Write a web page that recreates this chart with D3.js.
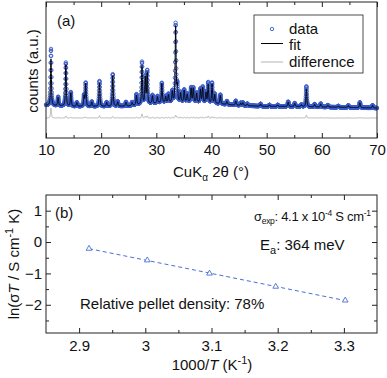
<!DOCTYPE html>
<html><head><meta charset="utf-8">
<script src="https://cdn.jsdelivr.net/npm/d3@7"></script>
<style>
body{margin:0;background:#fff;}
svg text{font-family:"Liberation Sans",Arial,sans-serif;font-size:15px;fill:#111;}
</style></head><body>
<svg id="c" width="387" height="378"></svg>
<script>
// ---------- Panel (a): XRD data (peak table) ----------
const peakPos  = [10.9,12.2,13.6,14.5,15.6,16.9,17.2,18.3,19.7,21.0,22.1,23.0,24.5,25.6,26.4,27.4,28.0,28.35,29.3,30.2,31.0,31.7,32.2,32.9,33.5,33.8,34.4,35.05,35.6,36.3,36.7,37.3,38.0,38.4,39.0,39.4,40.1,40.6,41.6,42.8,44.4,45.3,45.7,46.5,48.9,50.5,52.0,53.9,55.1,56.3,57.2,58.7,59.8,61.1,63.0,64.8,66.9,69.2];
const peakObs  = [416,65,320,103,30,80,172,35,187,30,236,35,30,25,78,310,200,240,60,50,145,45,60,80,575,120,70,90,60,105,105,70,100,115,80,150,150,70,68,25,32,20,22,15,18,12,12,35,25,15,150,20,25,15,10,15,40,20];
const peakCalc = [343,60,305,98,27,76,165,32,170,27,225,31,27,22,72,280,190,225,55,46,140,41,55,76,555,112,64,85,55,99,100,66,95,108,74,135,140,64,63,22,29,18,20,13,16,11,11,32,22,13,130,18,22,13,9,13,36,18];
const bgX = [10,15,20,25,28,32,36,40,45,50,55,60,65,70];
const bgV = [240,232,232,235,250,262,265,255,240,232,232,228,225,220];
const xrdTicks = [10,20,30,40,50,60,70];
const diffBase = 147;

// ---------- Panel (b): Arrhenius data ----------
const invT = [2.915,3.003,3.097,3.197,3.302];
const lnSigmaT = [-0.21,-0.58,-1.0,-1.42,-1.86];
const bTicksX = [2.9,3.0,3.1,3.2,3.3];
const bTicksY = [1,0,-1,-2];

const svg = d3.select("#c");
const blue = "#3a5cc8";

// ===== Panel a =====
const xA = d3.scaleLinear().domain([10,70]).range([46,377]);
const yA = d3.scaleLinear().domain([0,1000]).range([138,2]);
const bg = d3.scaleLinear().domain(bgX).range(bgV);
const fwhm = 0.2, eta = 0.55;
function prof(x, H){
  let s = 0;
  for(let i=0;i<peakPos.length;i++){
    const d = (x-peakPos[i])/fwhm;
    if (Math.abs(d) > 40) continue;
    s += H[i]*(eta/(1+4*d*d) + (1-eta)*Math.exp(-4*Math.LN2*d*d));
  }
  return s;
}
const fine = d3.range(10, 70.0001, 0.01);
const obsPts = d3.range(10, 70.0001, 0.02).map(x=>({x, y: bg(x)+prof(x,peakObs)}));
const calcPts = fine.map(x=>({x, y: bg(x)+prof(x,peakCalc)}));
const diffPts = fine.map(x=>({x, y: diffBase + prof(x,peakObs)-prof(x,peakCalc)}));

const gA = svg.append("g");
const line = d3.line().x(d=>xA(d.x)).y(d=>yA(d.y));
gA.append("path").datum(diffPts).attr("d",line).attr("fill","none").attr("stroke","#b4b4b4").attr("stroke-width",1);
gA.append("g").selectAll("circle").data(obsPts).join("circle")
  .attr("cx",d=>xA(d.x)).attr("cy",d=>yA(d.y)).attr("r",1.7)
  .attr("fill","none").attr("stroke",blue).attr("stroke-width",0.9);
gA.append("path").datum(calcPts).attr("d",line).attr("fill","none").attr("stroke","#000").attr("stroke-width",1);

function styleAxis(g){ g.select(".domain").remove(); g.selectAll(".tick line").attr("stroke","#222"); g.selectAll("text").attr("font-size",null).attr("font-family",null).attr("fill","#111"); }
gA.append("g").attr("transform","translate(0,138)")
  .call(d3.axisBottom(xA).tickValues(xrdTicks).tickFormat(d3.format("d")).tickSize(-5).tickPadding(6)).call(styleAxis);
gA.append("g").attr("transform","translate(0,138)")
  .call(d3.axisBottom(xA).tickValues(d3.range(15,70,10)).tickFormat("").tickSize(-3)).call(styleAxis);
gA.append("g").attr("transform","translate(0,2)")
  .call(d3.axisTop(xA).tickValues(xrdTicks).tickFormat("").tickSize(-5)).call(styleAxis);
gA.append("g").attr("transform","translate(0,2)")
  .call(d3.axisTop(xA).tickValues(d3.range(15,70,10)).tickFormat("").tickSize(-3)).call(styleAxis);
gA.append("rect").attr("x",46).attr("y",2).attr("width",331).attr("height",136).attr("fill","none").attr("stroke","#222").attr("stroke-width",1);

gA.append("text").attr("x",57).attr("y",26).text("(a)");
const xl = gA.append("text").attr("x",211).attr("y",177).attr("text-anchor","middle");
xl.append("tspan").text("CuK");
xl.append("tspan").attr("dy",4).attr("font-size",10).text("α");
xl.append("tspan").attr("dy",-4).text(" 2θ (°)");
gA.append("text").attr("transform","translate(38,71) rotate(-90)").attr("text-anchor","middle").text("counts (a.u.)");

const lg = gA.append("g");
lg.append("rect").attr("x",254).attr("y",15).attr("width",109).attr("height",58).attr("fill","#fff").attr("stroke","#222").attr("stroke-width",0.8);
lg.append("circle").attr("cx",272).attr("cy",29).attr("r",1.7).attr("fill","none").attr("stroke",blue).attr("stroke-width",0.9);
lg.append("line").attr("x1",261).attr("x2",283).attr("y1",43.5).attr("y2",43.5).attr("stroke","#000").attr("stroke-width",1);
lg.append("line").attr("x1",261).attr("x2",283).attr("y1",62).attr("y2",62).attr("stroke","#b4b4b4").attr("stroke-width",1);
lg.append("text").attr("x",289).attr("y",33.5).text("data");
lg.append("text").attr("x",289).attr("y",49.5).text("fit");
lg.append("text").attr("x",289).attr("y",67).text("difference");

// ===== Panel b =====
const xB = d3.scaleLinear().domain([2.85,3.35]).range([46,377]);
const yB = d3.scaleLinear().domain([-2.9,1.5]).range([333,195]);
const gB = svg.append("g");
gB.append("g").attr("transform","translate(0,333)")
  .call(d3.axisBottom(xB).tickValues(bTicksX).tickFormat(d=>String(+d.toFixed(1))).tickSize(-5).tickPadding(7)).call(styleAxis);
gB.append("g").attr("transform","translate(0,333)")
  .call(d3.axisBottom(xB).tickValues([2.95,3.05,3.15,3.25]).tickFormat("").tickSize(-3)).call(styleAxis);
gB.append("g").attr("transform","translate(0,195)")
  .call(d3.axisTop(xB).tickValues(bTicksX).tickFormat("").tickSize(-5)).call(styleAxis);
gB.append("g").attr("transform","translate(0,195)")
  .call(d3.axisTop(xB).tickValues([2.95,3.05,3.15,3.25]).tickFormat("").tickSize(-3)).call(styleAxis);
gB.append("g").attr("transform","translate(46,0)")
  .call(d3.axisLeft(yB).tickValues(bTicksY).tickFormat(d3.format("d")).tickSize(-5).tickPadding(4)).call(styleAxis);
gB.append("g").attr("transform","translate(46,0)")
  .call(d3.axisLeft(yB).tickValues([0.5,-0.5,-1.5,-2.5]).tickFormat("").tickSize(-3)).call(styleAxis);
gB.append("g").attr("transform","translate(377,0)")
  .call(d3.axisRight(yB).tickValues(bTicksY).tickFormat("").tickSize(-5)).call(styleAxis);
gB.append("g").attr("transform","translate(377,0)")
  .call(d3.axisRight(yB).tickValues([0.5,-0.5,-1.5,-2.5]).tickFormat("").tickSize(-3)).call(styleAxis);
gB.append("rect").attr("x",46).attr("y",195).attr("width",331).attr("height",138).attr("fill","none").attr("stroke","#222").attr("stroke-width",1);

const mx = d3.mean(invT), my = d3.mean(lnSigmaT);
const slope = d3.sum(invT.map((x,i)=>(x-mx)*(lnSigmaT[i]-my)))/d3.sum(invT.map(x=>(x-mx)*(x-mx)));
const icpt = my - slope*mx;
const ext = d3.extent(invT);
gB.append("line").attr("x1",xB(ext[0])).attr("x2",xB(ext[1]))
  .attr("y1",yB(icpt+slope*ext[0])).attr("y2",yB(icpt+slope*ext[1]))
  .attr("stroke","#4a6fd4").attr("stroke-width",1).attr("stroke-dasharray","4,3");
gB.append("g").selectAll("path").data(invT).join("path")
  .attr("transform",(d,i)=>`translate(${xB(d)},${yB(lnSigmaT[i])})`)
  .attr("d",d3.symbol(d3.symbolTriangle,14))
  .attr("fill","#fff").attr("stroke","#4a6fd4").attr("stroke-width",0.9);

gB.append("text").attr("x",55).attr("y",218).text("(b)");
const t1 = gB.append("text").attr("x",254).attr("y",221).style("font-size","13px").style("letter-spacing","-0.3px");
t1.append("tspan").text("σ");
t1.append("tspan").attr("dy",3).attr("font-size",8.5).text("exp");
t1.append("tspan").attr("dy",-3).text(": 4.1 x 10");
t1.append("tspan").attr("dy",-5).attr("font-size",8.5).text("-4");
t1.append("tspan").attr("dy",5).text(" S cm");
t1.append("tspan").attr("dy",-5).attr("font-size",8.5).text("-1");
const t2 = gB.append("text").attr("x",260).attr("y",250);
t2.append("tspan").text("E");
t2.append("tspan").attr("dy",4).attr("font-size",11).text("a");
t2.append("tspan").attr("dy",-4).text(": 364 meV");
gB.append("text").attr("x",80).attr("y",309).text("Relative pellet density: 78%");

const bx = gB.append("text").attr("x",212).attr("y",370).attr("text-anchor","middle");
bx.append("tspan").text("1000/");
bx.append("tspan").attr("font-style","italic").text("T");
bx.append("tspan").text(" (K");
bx.append("tspan").attr("dy",-6).attr("font-size",11).text("-1");
bx.append("tspan").attr("dy",6).text(")");
const by = gB.append("text").attr("transform","translate(19,264) rotate(-90)").attr("text-anchor","middle");
by.append("tspan").text("ln(σ");
by.append("tspan").attr("font-style","italic").text("T");
by.append("tspan").text(" / S cm");
by.append("tspan").attr("dy",-6).attr("font-size",11).text("-1");
by.append("tspan").attr("dy",6).text(" K)");
</script>
</body></html>
